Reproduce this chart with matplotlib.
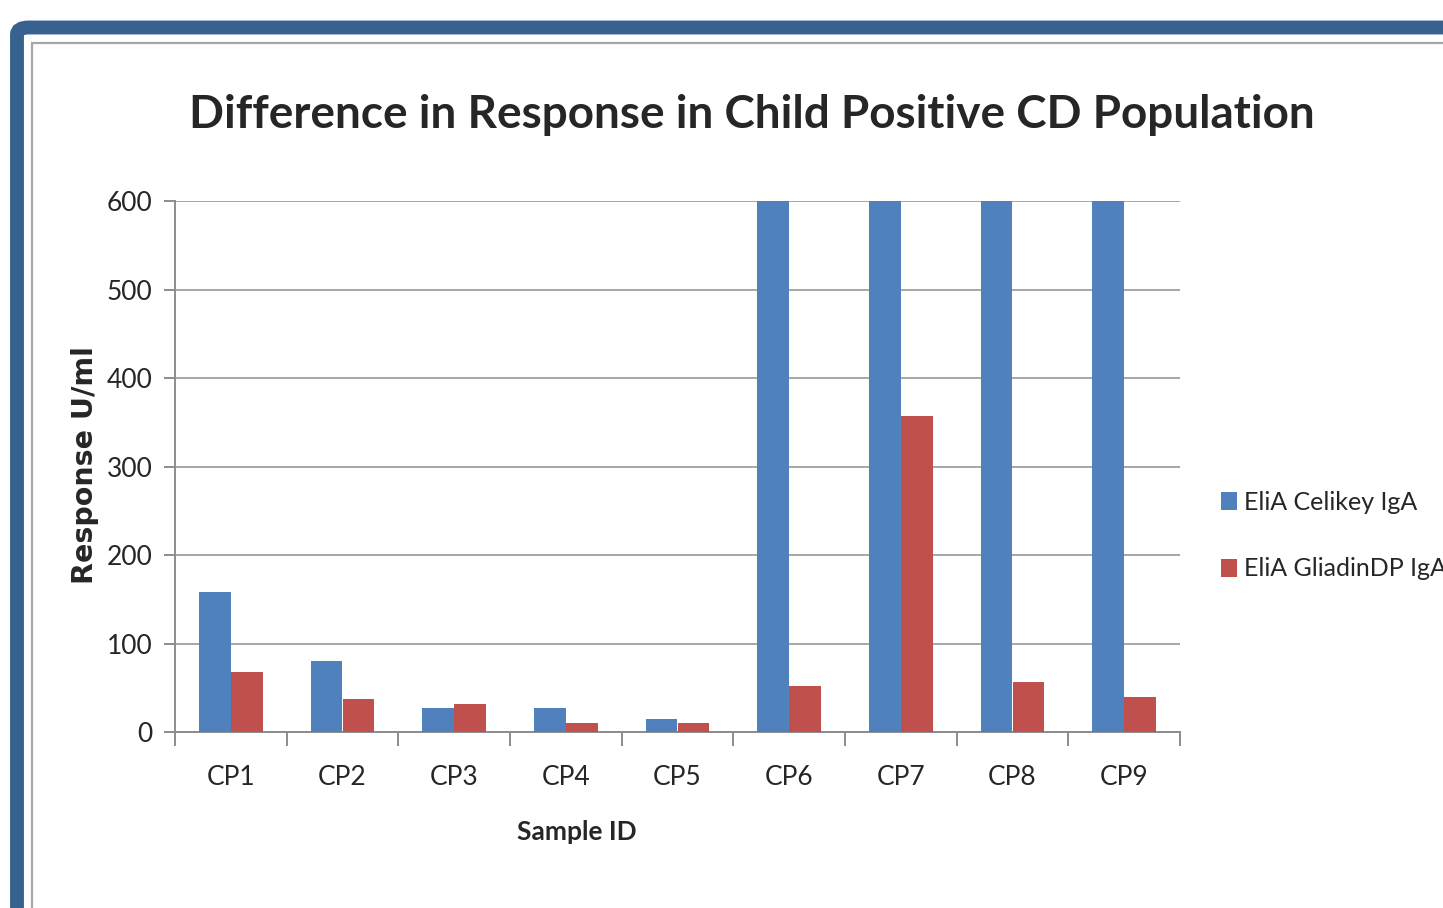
import matplotlib
matplotlib.use("Agg")
import matplotlib.pyplot as plt
import numpy as np
from matplotlib.patches import Rectangle, FancyBboxPatch

samples = ["CP1", "CP2", "CP3", "CP4", "CP5", "CP6", "CP7", "CP8", "CP9"]
celikey = [158, 80, 27, 27, 15, 600, 600, 600, 600]
gliadin = [68, 37, 32, 10, 10, 52, 357, 56, 40]
series_names = ["EliA Celikey IgA", "EliA GliadinDP IgA"]
yticks = [0, 100, 200, 300, 400, 500, 600]

W, H = 1443, 908
fig = plt.figure(figsize=(W / 100, H / 100), dpi=100)
fig.patch.set_facecolor("white")

calib = ["Lato", "DejaVu Sans"]
txt_col = "#262626"

# outer blue frame and grey inner border
frame = FancyBboxPatch((17 / W, -0.2), 1.5, 1.2 - 27.5 / H,
                       boxstyle="round,pad=0,rounding_size=0.008",
                       transform=fig.transFigure, fill=False,
                       edgecolor="#37618f", linewidth=10)
fig.patches.append(frame)
inner = Rectangle((32 / W, -0.2), 1.5, 1.2 - 43 / H, transform=fig.transFigure,
                  fill=False, edgecolor="#a6a6a6", linewidth=1.6)
fig.patches.append(inner)

ax = fig.add_axes([175 / W, 1 - 732 / H, (1180 - 175) / W, (732 - 201) / H])
x = np.arange(len(samples))
bw = 0.286
ax.bar(x - bw / 2, celikey, bw, color="#4f81bd", label=series_names[0], zorder=3)
ax.bar(x + bw / 2, gliadin, bw, color="#c0504d", label=series_names[1], zorder=3)

ax.set_xlim(-0.5, len(samples) - 0.5)
ax.set_ylim(0, 600)
ax.set_yticks(yticks)
ax.set_yticklabels([str(v) for v in yticks], fontsize=19, family=calib, color=txt_col)
ax.yaxis.grid(True, color="#a6a6a6", linewidth=1.4, zorder=0)
ax.set_xticks(x)
ax.set_xticklabels(samples, fontsize=19, family=calib, color=txt_col)
ax.set_xticks(np.arange(-0.5, len(samples)), minor=True)
ax.tick_params(axis="x", which="major", length=0, pad=24)
ax.tick_params(axis="x", which="minor", length=10, color="#8c8c8c", width=1.4)
ax.tick_params(axis="y", length=8, color="#8c8c8c", width=1.4, pad=8)
for s in ["top", "right"]:
    ax.spines[s].set_visible(False)
for s in ["left", "bottom"]:
    ax.spines[s].set_color("#8c8c8c")
    ax.spines[s].set_linewidth(1.4)

ax.set_xlabel("Sample ID", fontsize=19, family=calib, fontweight="bold",
              color=txt_col, va="center")
ax.xaxis.set_label_coords((577 - 175) / 1005, (732 - 832) / 531)
ax.set_ylabel("Response U/ml", fontsize=20.5, fontweight="bold", color=txt_col, va="center")
ax.yaxis.set_label_coords((85 - 175) / 1005, (732 - 465) / 531)

fig.text(752 / W, 1 - 115 / H, "Difference in Response in Child Positive CD Population",
         ha="center", va="center", fontsize=33, fontweight="bold", family=calib,
         color=txt_col)

leg = ax.legend(loc="center left", bbox_to_anchor=(1.031, 0.37), frameon=False,
                prop={"family": calib, "size": 18}, handlelength=0.65, handleheight=0.75,
                labelspacing=1.75, handletextpad=0.25, borderaxespad=0)
for t in leg.get_texts():
    t.set_color(txt_col)

fig.savefig("out.png", dpi=100)
